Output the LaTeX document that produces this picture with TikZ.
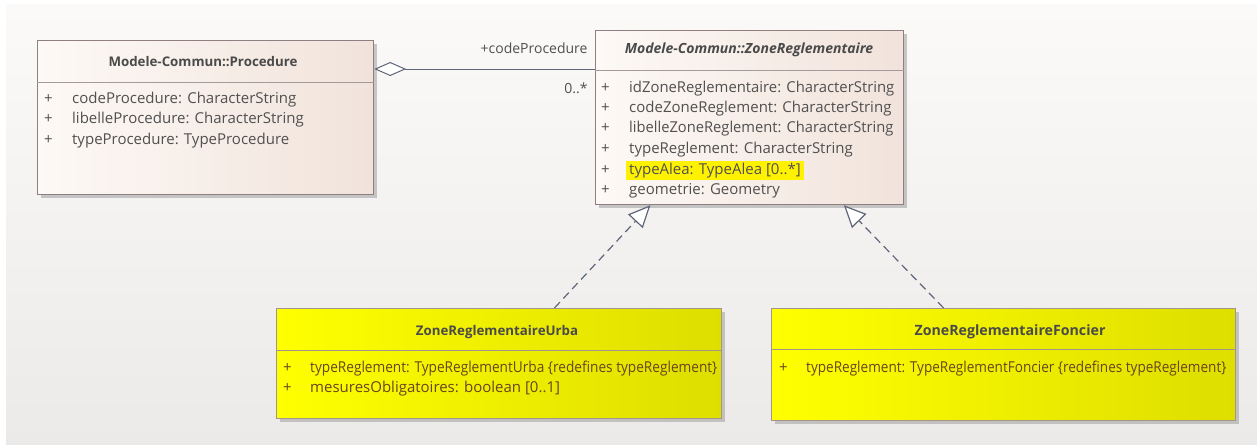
\documentclass[tikz,border=0pt]{standalone}
\usepackage{fontspec}
\setmainfont{Open Sans}
\usetikzlibrary{arrows.meta,shadows,calc}
\definecolor{bgtop}{HTML}{FBFAF9}
\definecolor{bgbot}{HTML}{ECEAE8}
\definecolor{beigeL}{HTML}{FDF9F6}
\definecolor{beigeR}{HTML}{F1E3DB}
\definecolor{yelL}{HTML}{FFFF00}
\definecolor{yelR}{HTML}{DEDE00}
\definecolor{boxborder}{HTML}{8F7F80}
\definecolor{yborder}{HTML}{A0968A}
\definecolor{titletext}{HTML}{4A4A4A}
\definecolor{attrtext}{HTML}{505050}
\definecolor{yattrtext}{HTML}{6A4420}
\definecolor{conn}{HTML}{5E6678}
\definecolor{hl}{HTML}{FFF200}
\tikzset{
  classbox/.style={draw=boxborder, line width=1.2pt, anchor=north west, inner sep=0pt,
    drop shadow={shadow xshift=3pt, shadow yshift=-3pt, fill=black!35, opacity=.6}},
  beigebox/.style={classbox, left color=beigeL, right color=beigeR},
  yellowbox/.style={classbox, draw=yborder, left color=yelL, right color=yelR},
  sep/.style={draw=boxborder!80, line width=1pt},
  ysep/.style={draw=yborder, line width=1pt},
  title/.style={font=\fontsize{13.3}{15}\selectfont\bfseries, text=titletext, inner sep=0pt},
  attr/.style={font=\fontsize{15}{17}\selectfont, text=attrtext, anchor=mid west, inner sep=0pt, yshift=-2.5pt},
  yattr/.style={attr, text=yattrtext},
  assoc/.style={draw=conn, line width=1pt},
  real/.style={draw=conn, line width=1.2pt, dash pattern=on 8pt off 5pt,
    -{Triangle[open, length=22pt, width=20pt, fill=white, line width=1.2pt]}},
  lbl/.style={font=\fontsize{14}{16}\selectfont, text=attrtext, inner sep=0pt},
}
\begin{document}
\begin{tikzpicture}[x=1pt,y=-1pt]
\useasboundingbox (0,0) rectangle (1257,444);
\shade[top color=bgtop, bottom color=bgbot] (6,5) rectangle (1257,444);

% Procedure
\node[beigebox, minimum width=336pt, minimum height=154pt] (proc) at (37,40) {};
\draw[sep] ($(proc.north west)+(0,42)$) -- ($(proc.north east)+(0,42)$);
\node[title] (procT) at (203,62) {Modele-Commun::Procedure};
\node[attr] (p1s) at (44,98) {+};
\node[attr] (p1) at (72,98) {codeProcedure: CharacterString};
\node[attr] (p2s) at (44,118) {+};
\node[attr] (p2) at (72,118) {libelleProcedure: CharacterString};
\node[attr] (p3s) at (44,139) {+};
\node[attr] (p3) at (72,139) {typeProcedure: TypeProcedure};

% ZoneReglementaire
\node[beigebox, minimum width=308pt, minimum height=174pt] (zone) at (595,30) {};
\draw[sep] ($(zone.north west)+(0,40)$) -- ($(zone.north east)+(0,40)$);
\node[title, font=\fontsize{14}{16}\selectfont\bfseries\itshape] (zoneT) at (749,50) {Modele-Commun::ZoneReglementaire};
\node[attr] (z1s) at (601,87) {+};
\node[attr] (z1) at (629,87) {\scalebox{0.99}[1]{idZoneReglementaire: CharacterString}};
\node[attr] (z2s) at (601,107) {+};
\node[attr] (z2) at (629,107) {codeZoneReglement: CharacterString};
\node[attr] (z3s) at (601,127) {+};
\node[attr] (z3) at (629,127) {\scalebox{0.98}[1]{libelleZoneReglement: CharacterString}};
\node[attr] (z4s) at (601,148) {+};
\node[attr] (z4) at (629,148) {typeReglement: CharacterString};
\node[attr] (z5s) at (601,169) {+};
\node[attr, fill=hl, inner xsep=3pt, inner ysep=2pt] (z5) at (626,169) {typeAlea: TypeAlea [0..*]};
\node[attr] (z6s) at (601,189) {+};
\node[attr] (z6) at (629,189) {geometrie: Geometry};

% Urba
\node[yellowbox, minimum width=445pt, minimum height=110pt] (urba) at (276,308) {};
\draw[ysep] ($(urba.north west)+(0,42)$) -- ($(urba.north east)+(0,42)$);
\node[title] (urbaT) at (497,332) {ZoneReglementaireUrba};
\node[yattr] (u1s) at (283,367) {+};
\node[yattr] (u1) at (310,367) {\scalebox{0.91}[1]{typeReglement: TypeReglementUrba \{redefines typeReglement\}}};
\node[yattr] (u2s) at (283,387) {+};
\node[yattr] (u2) at (310,387) {mesuresObligatoires: boolean [0..1]};

% Foncier
\node[yellowbox, minimum width=464pt, minimum height=112pt] (fonc) at (771,308) {};
\draw[ysep] ($(fonc.north west)+(0,41)$) -- ($(fonc.north east)+(0,41)$);
\node[title, font=\fontsize{14.2}{16}\selectfont\bfseries] (foncT) at (1010,332) {ZoneReglementaireFoncier};
\node[yattr] (f1s) at (779,367) {+};
\node[yattr] (f1) at (806,367) {\scalebox{0.905}[1]{typeReglement: TypeReglementFoncier \{redefines typeReglement\}}};

% association
\draw[assoc, {Diamond[open, length=32pt, width=14pt, fill=white, line width=1pt]}-]
  ($(proc.north east)+(0,29)$) -- ($(zone.north west)+(0,39)$)
  node[lbl, pos=1, anchor=south east, xshift=-7pt, yshift=15pt] (role) {+codeProcedure}
  node[lbl, pos=1, anchor=north east, xshift=-7pt, yshift=-13pt] (mult) {0..*};

% realizations
\draw[real] ($(urba.north west)!0.624!(urba.north east)$) -- ($(zone.south west)!0.179!(zone.south east)$);
\draw[real] ($(fonc.north west)!0.371!(fonc.north east)$) -- ($(zone.south west)!0.805!(zone.south east)$);
\end{tikzpicture}
\end{document}
